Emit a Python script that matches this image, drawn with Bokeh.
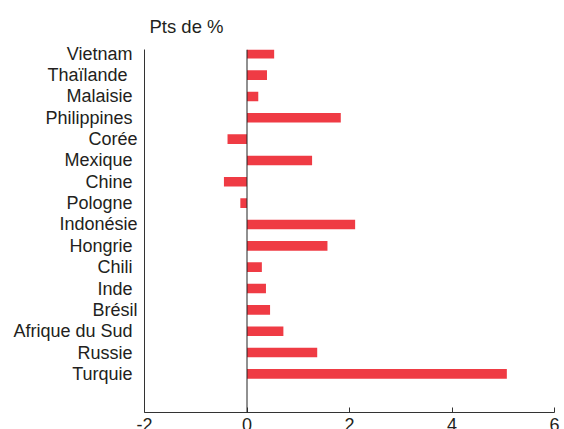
from bokeh.plotting import figure
from bokeh.models import Range1d, FixedTicker, Span
from bokeh.embed import file_html
from bokeh.resources import INLINE

# ---- data (top to bottom as shown) ----
countries = ["Vietnam", "Thaïlande", "Malaisie", "Philippines", "Corée", "Mexique",
             "Chine", "Pologne", "Indonésie", "Hongrie", "Chili", "Inde", "Brésil",
             "Afrique du Sud", "Russie", "Turquie"]
values = [0.53, 0.39, 0.22, 1.83, -0.38, 1.27, -0.45, -0.13, 2.11, 1.57,
          0.29, 0.37, 0.45, 0.71, 1.37, 5.07]
# trailing padding seen in the original labels
label_pad = [1, 2, 1, 1, 0, 1, 1, 1, 0, 1, 1, 1, 0, 1, 1, 1]
x_ticks = [-2, 0, 2, 4, 6]
x_tick_labels = ["-2", "0", "2", "4", "6"]
unit_label = "Pts de %"

FONT = "Liberation Sans"
TXT = "#231f20"
BAR = "#ef3b44"

n = len(countries)
ypos = [n - 1 - i for i in range(n)]

p = figure(frame_width=410, frame_height=363,
           x_range=Range1d(-2, 6), y_range=Range1d(-1.81, 15.2),
           output_backend="svg", toolbar_location=None,
           min_border_left=144, min_border_right=10, min_border_top=49,
           min_border_bottom=0)

p.hbar(y=ypos, left=0, right=values, height=0.45, fill_color=BAR, line_color=None)
p.add_layout(Span(location=0, dimension="height", line_color="#222222", line_width=1))

p.outline_line_color = None
p.xgrid.visible = False
p.ygrid.visible = False
p.background_fill_color = "white"
p.border_fill_color = "white"

# title ("Pts de %")
p.title.text = unit_label
p.title.align = "left"
p.title.offset = 5
p.title.text_font = FONT
p.title.text_font_size = "18.5px"
p.title.text_font_style = "normal"
p.title.text_color = TXT
p.title.standoff = 26

# y axis
ya = p.yaxis[0]
ya.ticker = FixedTicker(ticks=ypos)
ya.major_label_overrides = {ypos[i]: countries[i] + "\u00a0" * label_pad[i] for i in range(n)}
ya.major_tick_line_color = None
ya.minor_tick_line_color = None
ya.major_tick_in = 0
ya.major_tick_out = 0
ya.major_label_standoff = 7
ya.major_label_text_font = FONT
ya.major_label_text_font_size = "18px"
ya.major_label_text_color = TXT
ya.axis_line_color = "#333333"
ya.axis_line_width = 1

# x axis
xa = p.xaxis[0]
xa.ticker = FixedTicker(ticks=x_ticks)
xa.major_label_overrides = {x_ticks[i]: x_tick_labels[i] for i in range(len(x_ticks))}
xa.minor_tick_line_color = None
xa.major_tick_in = 5
xa.major_tick_out = 0
xa.major_tick_line_color = "#333333"
xa.major_label_standoff = 5
xa.major_label_text_font = FONT
xa.major_label_text_font_size = "18px"
xa.major_label_text_color = TXT
xa.axis_line_color = "#333333"
xa.axis_line_width = 1

open("out.html", "w").write(file_html(p, INLINE))
